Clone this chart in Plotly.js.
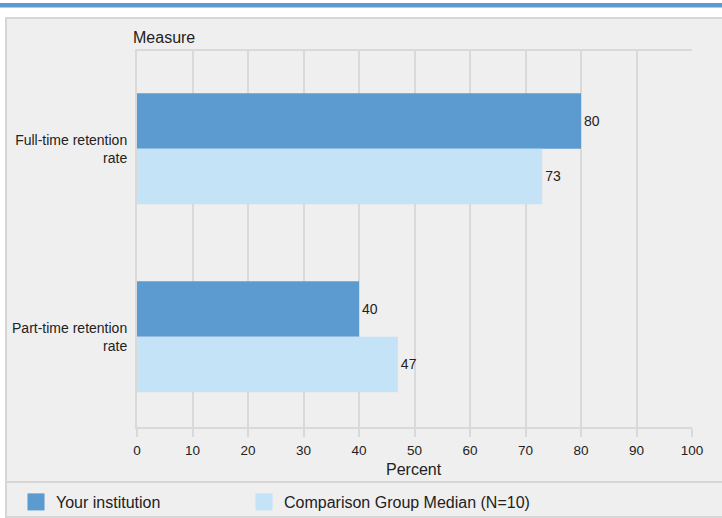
<!DOCTYPE html>
<html>
<head>
<meta charset="utf-8">
<script src="https://cdn.plot.ly/plotly-3.0.1.min.js"></script>
<style>
  html, body { margin: 0; padding: 0; background: #ffffff; overflow: hidden; }
  #chart { width: 722px; height: 518px; }
</style>
</head>
<body>
<div id="chart"></div>
<script>
const categories = ['Full-time retention<br>rate', 'Part-time retention<br>rate'];
const yourInstitution = [80, 40];
const comparisonMedian = [73, 47];
const seriesNames = ['Your institution', 'Comparison Group Median (N=10)'];
const xTickValues = [0, 10, 20, 30, 40, 50, 60, 70, 80, 90, 100];
const yAxisTitle = 'Measure';
const xAxisTitle = 'Percent';

const W = 722, H = 518;
const M = { l: 137, r: 30, t: 51, b: 91, autoexpand: false };
const PW = W - M.l - M.r, PH = H - M.t - M.b;
const px = x => (x - M.l) / PW;
const py = y => (H - M.b - y) / PH;

const FONT = '"Liberation Sans", Arial, sans-serif';
const DARK = '#5b9bd0';
const LIGHT = '#c5e3f6';
const GRID = '#d9d9d9';
const TXT = '#222222';

const traces = [
  {
    type: 'bar', orientation: 'h', name: seriesNames[0], legend: 'legend',
    y: categories, x: yourInstitution,
    marker: { color: DARK },
    text: yourInstitution.map(String), textposition: 'outside',
    textfont: { family: FONT, size: 14, color: TXT },
    cliponaxis: false, hoverinfo: 'skip'
  },
  {
    type: 'bar', orientation: 'h', name: seriesNames[1], legend: 'legend2',
    y: categories, x: comparisonMedian,
    marker: { color: LIGHT },
    text: comparisonMedian.map(String), textposition: 'outside',
    textfont: { family: FONT, size: 14, color: TXT },
    cliponaxis: false, hoverinfo: 'skip'
  }
];

const legendBase = {
  orientation: 'h',
  xref: 'container', yref: 'container',
  xanchor: 'left', y: (H - 502) / H, yanchor: 'middle',
  font: { family: FONT, size: 16, color: TXT },
  bgcolor: 'rgba(0,0,0,0)'
};

const layout = {
  width: W, height: H, autosize: false,
  margin: M,
  paper_bgcolor: '#ffffff',
  plot_bgcolor: '#efefef',
  font: { family: FONT, size: 13, color: TXT },
  barmode: 'group', bargap: 0.41, bargroupgap: 0,
  showlegend: true,
  legend: Object.assign({}, legendBase, { x: 16 / W }),
  legend2: Object.assign({}, legendBase, { x: 244 / W }),
  xaxis: {
    range: [0, 100], tickvals: xTickValues, ticktext: xTickValues.map(String),
    showgrid: true, gridcolor: GRID, gridwidth: 2,
    zeroline: false, showline: true, linecolor: GRID, linewidth: 2, mirror: true,
    ticks: 'outside', ticklen: 8, tickwidth: 2, tickcolor: GRID,
    ticklabelstandoff: 2,
    tickfont: { family: FONT, size: 13.5, color: TXT },
    fixedrange: true
  },
  yaxis: {
    type: 'category', range: [1.48, -0.52],
    showgrid: false, zeroline: false, showline: true, linecolor: GRID, linewidth: 2,
    ticks: '', ticklabelstandoff: 5,
    tickfont: { family: FONT, size: 14, color: TXT },
    fixedrange: true
  },
  shapes: [
    { type: 'rect', xref: 'paper', yref: 'paper', layer: 'below',
      x0: px(6), x1: px(730), y0: py(517), y1: py(18),
      fillcolor: '#efefef', line: { color: '#d6d6d6', width: 2 } },
    { type: 'rect', xref: 'paper', yref: 'paper', layer: 'below',
      x0: px(0), x1: px(722), y0: py(7.5), y1: py(3),
      fillcolor: DARK, line: { width: 0 } },
    { type: 'line', xref: 'paper', yref: 'paper', layer: 'below',
      x0: px(6), x1: px(722), y0: py(482), y1: py(482),
      line: { color: '#d6d6d6', width: 2 } }
  ],
  annotations: [
    { xref: 'paper', yref: 'paper', x: px(131), y: py(37), xanchor: 'left', yanchor: 'middle',
      text: yAxisTitle, showarrow: false, font: { family: FONT, size: 16, color: TXT } },
    { xref: 'paper', yref: 'paper', x: px(414), y: py(469), xanchor: 'center', yanchor: 'middle',
      text: xAxisTitle, showarrow: false, font: { family: FONT, size: 16, color: TXT } }
  ]
};

Plotly.newPlot('chart', traces, layout, { displayModeBar: false, staticPlot: true }).then(gd => {
  // enlarge the legend swatches to match the reference's 17px squares
  gd.querySelectorAll('.legendpoints path').forEach(p => {
    const t = p.getAttribute('transform') || '';
    p.setAttribute('transform', (t + ' scale(1.42)').trim());
  });
});
</script>
</body>
</html>
